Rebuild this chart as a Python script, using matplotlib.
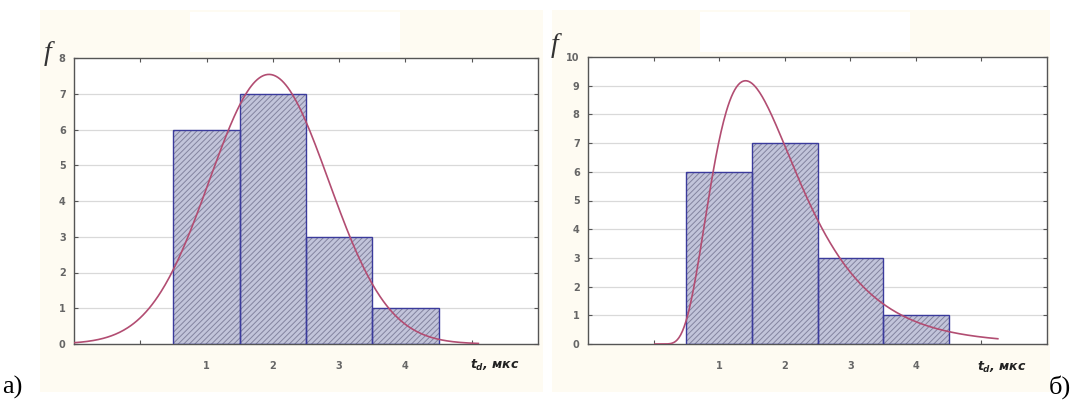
import numpy as np
import matplotlib.pyplot as plt
from matplotlib.patches import Rectangle

# интервалы времени задержки и частоты
t_centers = [1, 2, 3, 4]
freq_a = [6, 7, 3, 1]
freq_b = [6, 7, 3, 1]
x_ticks = [0, 1, 2, 3, 4, 5]
x_ticklabels = ['', '1', '2', '3', '4', '']
ymax_a = 8
ymax_b = 10

bar_face = '#c2c4da'
hatch_col = '#83839f'
bar_edge = '#3b3b9c'
curve_col = '#b24d72'
panel_col = '#fefbf2'

plt.rcParams['hatch.linewidth'] = 0.7
plt.rcParams['mathtext.fontset'] = 'custom'
plt.rcParams['mathtext.it'] = 'DejaVu Sans:italic:bold'
plt.rcParams['mathtext.rm'] = 'DejaVu Sans:bold'

fig = plt.figure(figsize=(10.89, 4.0), dpi=100)

# кремовые подложки под графиками
for x0, x1 in [(40, 543), (552, 1050)]:
    fig.patches.append(Rectangle((x0 / 1089, 8 / 400), (x1 - x0) / 1089, 382 / 400,
                                 transform=fig.transFigure, facecolor=panel_col,
                                 edgecolor='none', zorder=-10))
for x0 in [190, 700]:
    fig.patches.append(Rectangle((x0 / 1089, 1 - 52 / 400), 210 / 1089, 40 / 400,
                                 transform=fig.transFigure, facecolor='white',
                                 edgecolor='none', zorder=-9))


def normal_fit(x, centers, counts):
    c = np.repeat(centers, counts).astype(float)
    m, s = c.mean(), c.std(ddof=1)
    return len(c) / (s * np.sqrt(2 * np.pi)) * np.exp(-(x - m) ** 2 / (2 * s ** 2))


def lognormal_fit(x, centers, counts):
    c = np.log(np.repeat(centers, counts).astype(float))
    m, s = c.mean(), c.std(ddof=1)
    return len(c) / (x * s * np.sqrt(2 * np.pi)) * np.exp(-(np.log(x) - m) ** 2 / (2 * s ** 2))


def draw_hist(ax, counts, ymax, xs, ys):
    ax.set_xlim(-1, 6)
    ax.set_ylim(0, ymax)
    for y in range(1, ymax):
        ax.axhline(y, color='#d9d9d9', lw=0.9, zorder=0)
    ax.bar(t_centers, counts, width=1.0, color=bar_face, edgecolor=hatch_col,
           hatch='//////', linewidth=0, zorder=2)
    ax.bar(t_centers, counts, width=1.0, fill=False, edgecolor=bar_edge,
           linewidth=1.0, zorder=3)
    ax.plot(xs, ys, color=curve_col, lw=1.2, zorder=4)
    ax.set_xticks(x_ticks)
    ax.set_xticklabels(x_ticklabels)
    ax.set_yticks(range(0, ymax + 1))
    ax.tick_params(direction='in', length=3, width=0.8, color='#555555',
                   top=True, right=True, labelsize=7, labelcolor='#666666')
    ax.tick_params(axis='x', pad=12)
    ax.tick_params(axis='y', pad=6)
    for lab in ax.get_xticklabels() + ax.get_yticklabels():
        lab.set_fontweight('bold')
    for sp in ax.spines.values():
        sp.set_color('#555555')
        sp.set_linewidth(1.0)


ax1 = fig.add_axes([74 / 1089, 1 - 344 / 400, 464 / 1089, 286 / 400])
xa = np.linspace(-1, 5.1, 400)
draw_hist(ax1, freq_a, ymax_a, xa, normal_fit(xa, t_centers, freq_a))

ax2 = fig.add_axes([588 / 1089, 1 - 344 / 400, 459 / 1089, 287 / 400])
xb = np.linspace(0.02, 5.25, 400)
draw_hist(ax2, freq_b, ymax_b, xb, lognormal_fit(xb, t_centers, freq_b))

# подписи осей
fig.text(44 / 1089, 1 - 60 / 400, 'f', fontsize=20, style='italic',
         family='Liberation Serif', color='#333333')
fig.text(551 / 1089, 1 - 52 / 400, 'f', fontsize=20, style='italic',
         family='Liberation Serif', color='#333333')
fig.text(470 / 1089, 1 - 369 / 400, r'$t_d$, мкс', fontsize=9,
         style='italic', weight='bold', color='#222222')
fig.text(977 / 1089, 1 - 371 / 400, r'$t_d$, мкс', fontsize=9,
         style='italic', weight='bold', color='#222222')

fig.text(2 / 1089, 1 - 394 / 400, 'а)', fontsize=19, family='Liberation Serif')
fig.text(1049 / 1089, 1 - 394 / 400, 'б)', fontsize=19, family='Liberation Serif')

fig.savefig('out.png', dpi=100)
